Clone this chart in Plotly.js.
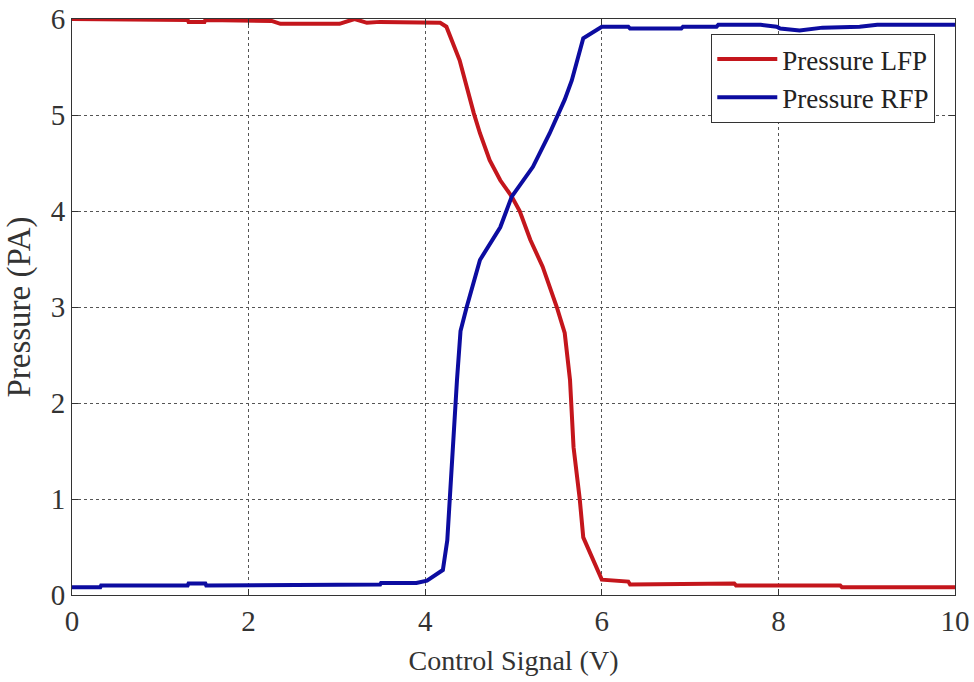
<!DOCTYPE html>
<html>
<head>
<meta charset="utf-8">
<script src="https://cdn.plot.ly/plotly-3.0.1.min.js"></script>
<style>html,body{margin:0;padding:0;background:#fff;}#chart{width:974px;height:682px;}</style>
</head>
<body>
<div id="chart"></div>
<script>
// Pressure LFP (red)
const lfpV = [0, 0.92, 0.93, 1.31, 1.32, 1.5, 1.51, 1.9, 1.92, 2.26, 2.36, 3.03, 3.2, 3.34, 3.49, 4.05, 4.17, 4.24, 4.39, 4.55, 4.62, 4.73, 4.85, 4.98, 5.07, 5.19, 5.33, 5.49, 5.58, 5.64, 5.68, 5.75, 5.79, 6.0, 6.3, 6.32, 7.3, 7.32, 7.5, 7.52, 8.7, 8.72, 10];
const lfpP = [6.0, 6.0, 5.99, 5.99, 5.97, 5.97, 5.99, 5.99, 5.98, 5.98, 5.95, 5.95, 6.0, 5.96, 5.97, 5.97, 5.96, 5.92, 5.57, 5.02, 4.81, 4.53, 4.32, 4.15, 4.0, 3.70, 3.42, 3.0, 2.73, 2.24, 1.54, 1.0, 0.6, 0.16, 0.14, 0.11, 0.11, 0.12, 0.12, 0.1, 0.1, 0.08, 0.08];
// Pressure RFP (blue)
const rfpV = [0, 0.32, 0.33, 1.31, 1.32, 1.51, 1.52, 1.92, 1.93, 3.49, 3.5, 3.9, 4.02, 4.2, 4.25, 4.3, 4.36, 4.4, 4.47, 4.62, 4.85, 4.98, 5.22, 5.41, 5.58, 5.66, 5.75, 5.79, 6.0, 6.3, 6.32, 6.9, 6.92, 7.3, 7.32, 7.8, 7.98, 8.02, 8.24, 8.5, 8.92, 9.12, 10];
const rfpP = [0.08, 0.08, 0.1, 0.1, 0.12, 0.12, 0.1, 0.1, 0.11, 0.11, 0.125, 0.125, 0.15, 0.26, 0.57, 1.37, 2.24, 2.75, 3.0, 3.49, 3.83, 4.15, 4.46, 4.81, 5.16, 5.36, 5.68, 5.80, 5.92, 5.92, 5.9, 5.9, 5.92, 5.92, 5.94, 5.94, 5.92, 5.9, 5.88, 5.91, 5.92, 5.94, 5.94];

const xTicks = [0, 2, 4, 6, 8, 10];
const yTicks = [0, 1, 2, 3, 4, 5, 6];
const seriesNames = ['Pressure LFP', 'Pressure RFP'];

const serif = 'Liberation Serif, Times New Roman, serif';
const axisColor = '#333333';

const traces = [
  {x: lfpV, y: lfpP, name: seriesNames[0], mode: 'lines', line: {color: '#c4161c', width: 4}},
  {x: rfpV, y: rfpP, name: seriesNames[1], mode: 'lines', line: {color: '#0c0ca0', width: 4}}
];

const axisCommon = {
  showline: true, linecolor: axisColor, linewidth: 1, mirror: 'ticks',
  ticks: 'inside', ticklen: 6, tickcolor: axisColor, tickwidth: 1,
  showgrid: true, gridcolor: '#555555', griddash: 'dot', gridwidth: 1,
  zeroline: false,
  tickfont: {family: serif, size: 29, color: '#333333'}
};

const layout = {
  width: 974, height: 682,
  margin: {l: 72, r: 19, t: 19, b: 87},
  paper_bgcolor: '#ffffff', plot_bgcolor: '#ffffff',
  showlegend: true,
  xaxis: Object.assign({}, axisCommon, {
    range: [0, 10], tickvals: xTicks, ticktext: xTicks.map(String),
    title: {text: 'Control Signal (V)', font: {family: serif, size: 28, color: '#333333'}, standoff: 14}
  }),
  yaxis: Object.assign({}, axisCommon, {
    range: [0, 6], tickvals: yTicks, ticktext: yTicks.map(String),
    title: {text: 'Pressure (PA)', font: {family: serif, size: 33, color: '#333333'}, standoff: 10}
  }),
  legend: {
    x: 0.724, y: 0.974, xanchor: 'left', yanchor: 'top',
    bgcolor: '#ffffff', bordercolor: axisColor, borderwidth: 1,
    font: {family: serif, size: 27, color: '#222222'},
    itemwidth: 60,
    tracegroupgap: 0
  }
};

Plotly.newPlot('chart', traces, layout, {displayModeBar: false, staticPlot: true});
</script>
</body>
</html>
